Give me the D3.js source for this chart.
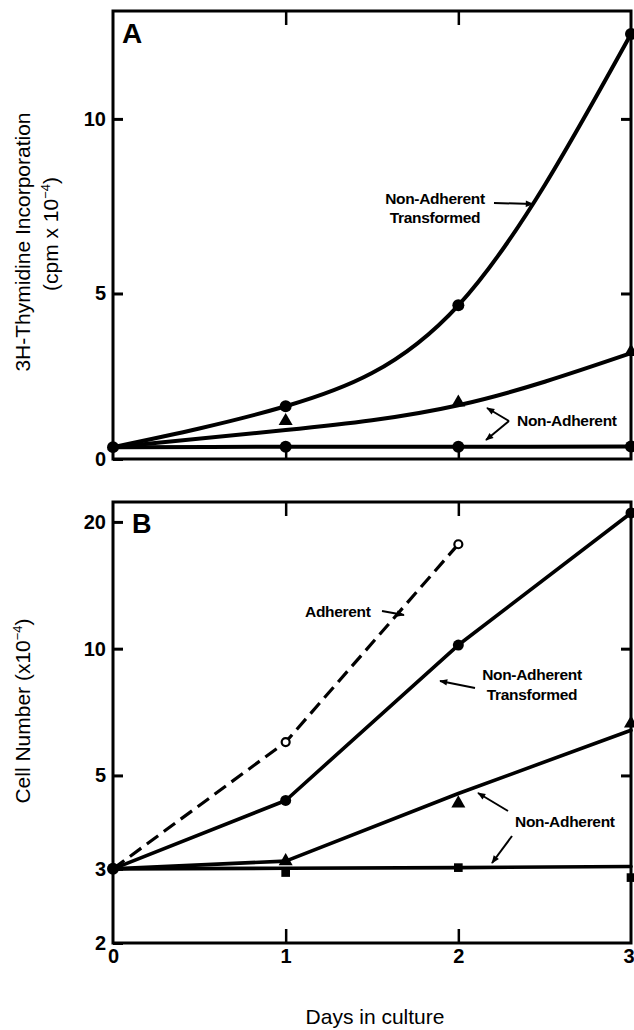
<!DOCTYPE html>
<html>
<head>
<meta charset="utf-8">
<script src="https://cdn.jsdelivr.net/npm/d3@7"></script>
<style>
  html, body { margin: 0; padding: 0; background: #fff; }
  svg { display: block; font-family: "Liberation Sans", Arial, sans-serif; }
</style>
</head>
<body>
<svg id="chart" width="634" height="1030"></svg>
<script>
// ---------- data ----------
const days = [0, 1, 2, 3];
const xTicks = [0, 1, 2, 3];

// Panel A: 3H-Thymidine incorporation (cpm x 10^-4)
const aTicks = [0, 5, 10];
const aTransformed = [0.6, 1.77, 4.66, 12.43];     // filled circles, fitted curve through points
const aNonAdhFit = [0.6, 1.09, 1.8, 3.29];          // fitted curve
const aNonAdhPts = [0.6, 1.32, 1.85, 3.3];          // triangles
const aFlat = [0.6, 0.61, 0.61, 0.62];              // filled circles

// Panel B: Cell number (x10^-4), log scale
const bTicks = [2, 3, 5, 10, 20];
const bAdherentDays = [0, 1, 2];
const bAdherent = [3, 6.0, 17.7];                    // open circles, dashed
const bTransformed = [3, 4.36, 10.2, 21.0];          // filled circles
const bNonAdhFit = [3, 3.13, 4.53, 6.4];             // line
const bNonAdhPts = [3, 3.13, 4.29, 6.64];            // triangles
const bFlatFit = [3, 3.01, 3.02, 3.04];              // line
const bFlatPts = [3, 2.94, 3.02, 2.86];              // squares

// ---------- layout ----------
const svg = d3.select("#chart");
const left = 113, right = 631;
const aTop = 11, aBottom = 459;
const bTop = 502, bBottom = 943;

const x = d3.scaleLinear().domain([0, 3]).range([left, right]);
const yA = d3.scaleLinear().domain([0.26, 13.09]).range([aBottom, aTop]).clamp(true);
const yB = d3.scaleLog().domain([2, 22.3]).range([bBottom, bTop]);

const FONT = '"Liberation Sans", Arial, sans-serif';

const defs = svg.append("defs");
defs.append("marker").attr("id", "arrow")
  .attr("viewBox", "0 -5 10 10").attr("refX", 9).attr("refY", 0)
  .attr("markerUnits", "userSpaceOnUse")
  .attr("markerWidth", 10).attr("markerHeight", 8).attr("orient", "auto")
  .append("path").attr("d", "M0,-4L10,0L0,4Z").attr("fill", "#000");

function panelFrame(y, ticks, top, bottom, rightTicks) {
  const g = svg.append("g");
  const axL = d3.axisRight(y).tickValues(ticks).tickSize(10).tickFormat("");
  g.append("g").attr("transform", `translate(${left},0)`).call(axL)
    .call(s => s.select(".domain").remove())
    .call(s => s.selectAll("line").attr("stroke", "#000").attr("stroke-width", 3));
  const axR = d3.axisLeft(y).tickValues(rightTicks).tickSize(10).tickFormat("");
  g.append("g").attr("transform", `translate(${right},0)`).call(axR)
    .call(s => s.select(".domain").remove())
    .call(s => s.selectAll("line").attr("stroke", "#000").attr("stroke-width", 3));
  const axT = d3.axisBottom(x).tickValues([1, 2]).tickSize(14).tickFormat("");
  g.append("g").attr("transform", `translate(0,${top})`).call(axT)
    .call(s => s.select(".domain").remove())
    .call(s => s.selectAll("line").attr("stroke", "#000").attr("stroke-width", 2.5));
  const axB = d3.axisTop(x).tickValues([1, 2]).tickSize(14).tickFormat("");
  g.append("g").attr("transform", `translate(0,${bottom})`).call(axB)
    .call(s => s.select(".domain").remove())
    .call(s => s.selectAll("line").attr("stroke", "#000").attr("stroke-width", 2.5));
  g.append("rect").attr("x", left).attr("y", top)
    .attr("width", right - left).attr("height", bottom - top)
    .attr("fill", "none").attr("stroke", "#000").attr("stroke-width", 3);
  const labs = d3.axisLeft(y).tickValues(ticks).tickSize(0).tickPadding(0)
    .tickFormat(d3.format("d"));
  g.append("g").attr("transform", `translate(${left - 7},0)`).call(labs)
    .call(s => s.select(".domain").remove())
    .call(s => s.selectAll("text").attr("font-family", FONT).attr("font-size", 20)
      .attr("font-weight", "bold").attr("fill", "#000"));
  return g;
}

panelFrame(yA, aTicks, aTop, aBottom, [5, 10]);
panelFrame(yB, bTicks, bTop, bBottom, [5, 10]);

// x tick labels (bottom panel)
const xl = d3.axisBottom(x).tickValues(xTicks).tickSize(0).tickPadding(0).tickFormat(d3.format("d"));
svg.append("g").attr("transform", `translate(0,${bBottom + 6})`).call(xl)
  .call(s => s.select(".domain").remove())
  .call(s => s.selectAll("text").attr("font-family", FONT).attr("font-size", 20)
    .attr("font-weight", "bold").attr("fill", "#000").attr("dy", "0.71em"))
  .call(s => s.selectAll("text").filter(d => d === 3).attr("text-anchor", "end").attr("dx", 3));

// ---------- lines ----------
const lineA = d3.line().x((d, i) => x(days[i])).y(d => yA(d)).curve(d3.curveNatural);
const lineB = d3.line().x((d, i) => x(days[i])).y(d => yB(d));

const ink = svg.append("g").attr("fill", "none").attr("stroke", "#000").attr("stroke-linecap", "round").attr("stroke-linejoin", "round");
ink.append("path").attr("d", lineA(aTransformed)).attr("stroke-width", 4);
ink.append("path").attr("d", lineA(aNonAdhFit)).attr("stroke-width", 4);
ink.append("path").attr("d", lineA(aFlat)).attr("stroke-width", 4);

ink.append("path").attr("d", d3.line().x((d, i) => x(bAdherentDays[i])).y(d => yB(d))(bAdherent))
  .attr("stroke-width", 3.2).attr("stroke-dasharray", "14,7").attr("stroke-linecap", "butt");
ink.append("path").attr("d", lineB(bTransformed)).attr("stroke-width", 3.6);
ink.append("path").attr("d", lineB(bNonAdhFit)).attr("stroke-width", 3.6);
ink.append("path").attr("d", lineB(bFlatFit)).attr("stroke-width", 3.6);

// ---------- markers ----------
const mk = svg.append("g").attr("fill", "#000");
const tri = d3.symbol().type(d3.symbolTriangle).size(85);
const sq = d3.symbol().type(d3.symbolSquare).size(75);

// panel A
mk.selectAll(".aTc").data(aTransformed).join("circle")
  .attr("cx", (d, i) => x(days[i])).attr("cy", d => yA(d)).attr("r", 6);
mk.selectAll(".aTr").data(aNonAdhPts.slice(1)).join("path")
  .attr("transform", (d, i) => `translate(${x(days[i + 1])},${yA(d) - 1})`).attr("d", tri);
mk.selectAll(".aFl").data(aFlat.slice(1)).join("circle")
  .attr("cx", (d, i) => x(days[i + 1])).attr("cy", d => yA(d)).attr("r", 6);

// panel B
mk.append("circle").attr("cx", x(0)).attr("cy", yB(3)).attr("r", 6);
mk.selectAll(".bAd").data(bAdherent.slice(1)).join("circle")
  .attr("cx", (d, i) => x(bAdherentDays[i + 1])).attr("cy", d => yB(d)).attr("r", 4)
  .attr("fill", "#fff").attr("stroke", "#000").attr("stroke-width", 2.2);
mk.selectAll(".bTc").data(bTransformed.slice(1)).join("circle")
  .attr("cx", (d, i) => x(days[i + 1])).attr("cy", d => yB(d)).attr("r", 5.5);
mk.selectAll(".bTr").data(bNonAdhPts.slice(1)).join("path")
  .attr("transform", (d, i) => `translate(${x(days[i + 1])},${yB(d)})`).attr("d", tri);
mk.selectAll(".bSq").data(bFlatPts.slice(1)).join("path")
  .attr("transform", (d, i) => `translate(${x(days[i + 1])},${yB(d)})`).attr("d", sq);

// ---------- annotations ----------
const ann = svg.append("g").attr("font-family", FONT).attr("font-weight", "bold")
  .attr("font-size", 15.5).attr("fill", "#000").attr("letter-spacing", "-0.3");
function arrow(x1, y1, x2, y2) {
  svg.append("line").attr("x1", x1).attr("y1", y1).attr("x2", x2).attr("y2", y2)
    .attr("stroke", "#000").attr("stroke-width", 2).attr("marker-end", "url(#arrow)");
}
function label(txt, cx, cy, anchor) {
  ann.append("text").attr("x", cx).attr("y", cy).attr("dy", "0.35em")
    .attr("text-anchor", anchor || "middle").text(txt);
}
// Panel A
label("Non-Adherent", 435, 199);
label("Transformed", 435, 218);
arrow(494, 203, 533, 204);
label("Non-Adherent", 517, 421, "start");
arrow(509, 421, 487, 408);
arrow(509, 421, 486, 440);
// Panel B
label("Adherent", 305, 612, "start");
arrow(382, 611, 404, 615);
label("Non-Adherent", 532, 675);
label("Transformed", 532, 695);
arrow(475, 688, 440, 681);
label("Non-Adherent", 515, 822, "start");
arrow(508, 811, 478, 793);
arrow(512, 836, 492, 863);

// panel letters
svg.append("text").attr("x", 122).attr("y", 43).attr("font-family", FONT)
  .attr("font-weight", "bold").attr("font-size", 28).text("A");
svg.append("text").attr("x", 132).attr("y", 533).attr("font-family", FONT)
  .attr("font-weight", "bold").attr("font-size", 27).text("B");

// axis titles
const tA = svg.append("text").attr("transform", "translate(30,242) rotate(-90)")
  .attr("text-anchor", "middle").attr("font-family", FONT).attr("font-size", 21);
tA.append("tspan").attr("x", 0).attr("y", 0).text("3H-Thymidine Incorporation");
const tA2 = svg.append("text").attr("transform", "translate(58,234) rotate(-90)")
  .attr("text-anchor", "middle").attr("font-family", FONT).attr("font-size", 21);
tA2.append("tspan").text("(cpm x 10");
tA2.append("tspan").attr("font-size", 13).attr("dy", -8).text("−4");
tA2.append("tspan").attr("dy", 8).text(")");

const tB = svg.append("text").attr("transform", "translate(30,711) rotate(-90)")
  .attr("text-anchor", "middle").attr("font-family", FONT).attr("font-size", 21);
tB.append("tspan").text("Cell Number (x10");
tB.append("tspan").attr("font-size", 13).attr("dy", -8).text("−4");
tB.append("tspan").attr("dy", 8).text(")");

svg.append("text").attr("x", 375).attr("y", 1024).attr("text-anchor", "middle")
  .attr("font-family", FONT).attr("font-size", 21).text("Days in culture");
</script>
</body>
</html>
